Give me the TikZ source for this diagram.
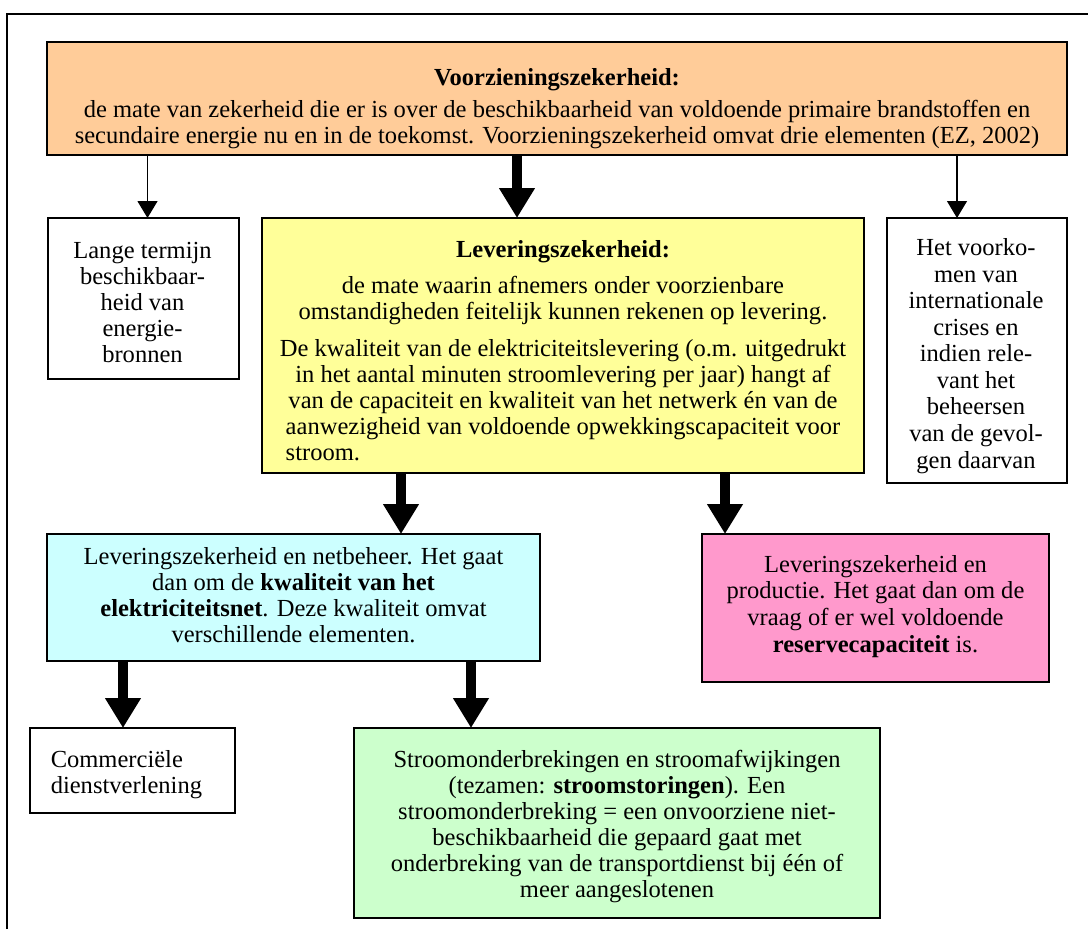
\documentclass[tikz,border=0pt]{standalone}
\usepackage{fontspec}
\setmainfont{Liberation Serif}
\usetikzlibrary{arrows.meta}
\definecolor{cOrange}{HTML}{FFCC99}
\definecolor{cYellow}{HTML}{FFFF99}
\definecolor{cCyan}{HTML}{CCFFFF}
\definecolor{cPink}{HTML}{FF99CC}
\definecolor{cGreen}{HTML}{CCFFCC}
\begin{document}
\begin{tikzpicture}[x=0.75pt,y=-0.75pt,
  box/.style={draw=black, line width=1.1pt, inner sep=0pt, outer sep=0pt},
  txt/.style={font=\fontsize{18.4}{19.5}\selectfont, align=center, inner sep=0pt, anchor=base},
  thinarrow/.style={line width=0.9pt, -{Triangle[width=15pt,length=12.75pt]}},
  thickarrow/.style={line width=7pt, -{Triangle[width=25.5pt,length=22.5pt]}}
]
\useasboundingbox (0,0) rectangle (1088,929);
\draw[line width=1.1pt] (7,929) -- (7,14) -- (1088,14);

% boxes
\node[box, fill=cOrange, minimum width=765pt, minimum height=84.75pt] (orange) at (557,98.5) {};
\node[box, fill=white, minimum width=143.25pt, minimum height=120.75pt] (lange) at (143.5,298.5) {};
\node[box, fill=cYellow, minimum width=451.5pt, minimum height=191.25pt] (yellow) at (563,345.5) {};
\node[box, fill=white, minimum width=135pt, minimum height=198.75pt] (crises) at (977,350.5) {};
\node[box, fill=cCyan, minimum width=369.75pt, minimum height=95.25pt] (cyan) at (293.5,597.5) {};
\node[box, fill=cPink, minimum width=260.25pt, minimum height=111pt] (pink) at (875.5,608) {};
\node[box, fill=white, minimum width=153.75pt, minimum height=63.75pt] (comm) at (132.5,770.5) {};
\node[box, fill=cGreen, minimum width=394.5pt, minimum height=142.5pt] (green) at (617,823) {};

% texts (anchored at the baseline of their last line)
\node[txt] (orangeT) at (557,143) {\textbf{Voorzieningszekerheid:}\\[4.5pt]
  de mate van zekerheid die er is over de beschikbaarheid van voldoende primaire brandstoffen en\\
  secundaire energie nu en in de toekomst. Voorzieningszekerheid omvat drie elementen (EZ, 2002)};
\node[txt] (langeT) at (142.5,362) {Lange termijn\\ beschikbaar-\\ heid van\\ energie-\\ bronnen};
\node[txt] (yellowT) at (563,460) {\textbf{Leveringszekerheid:}\\[7.5pt]
  de mate waarin afnemers onder voorzienbare\\
  omstandigheden feitelijk kunnen rekenen op levering.\\[8.25pt]
  De kwaliteit van de elektriciteitslevering (o.m. uitgedrukt\\
  in het aantal minuten stroomlevering per jaar) hangt af\\
  van de capaciteit en kwaliteit van het netwerk én van de\\
  aanwezigheid van voldoende opwekkingscapaciteit voor\\
  \rlap{stroom.}\phantom{aanwezigheid van voldoende opwekkingscapaciteit voor}};
\node[txt, font=\fontsize{18.4}{19.9}\selectfont] (crisesT) at (976,468) {Het voorko-\\ men van\\ internationale\\ crises en\\ indien rele-\\ vant het\\ beheersen\\ van de gevol-\\ gen daarvan};
\node[txt] (cyanT) at (293.5,642) {Leveringszekerheid en netbeheer. Het gaat\\
  dan om de \textbf{kwaliteit van het}\\
  \textbf{elektriciteitsnet}. Deze kwaliteit omvat\\
  verschillende elementen.};
\node[txt, font=\fontsize{18.4}{19.9}\selectfont] (pinkT) at (875.5,652) {Leveringszekerheid en\\ productie. Het gaat dan om de\\ vraag of er wel voldoende\\ \textbf{reservecapaciteit} is.};
\node[txt, align=left, anchor=base west] (commT) at (50.5,793) {Commerciële\\ dienstverlening};
\node[txt] (greenT) at (617,897) {Stroomonderbrekingen en stroomafwijkingen\\
  (tezamen: \textbf{stroomstoringen}). Een\\
  stroomonderbreking = een onvoorziene niet-\\
  beschikbaarheid die gepaard gaat met\\
  onderbreking van de transportdienst bij één of\\
  meer aangeslotenen};

% connectors
\coordinate (a1) at ([xshift=3pt]lange.north);
\coordinate (a2) at ([xshift=-34.5pt]yellow.north);
\coordinate (a3) at ([xshift=-15pt]crises.north);
\coordinate (a4) at ([xshift=80.625pt]cyan.north);
\coordinate (a5) at ([xshift=-112.875pt]pink.north);
\coordinate (a6) at ([xshift=-7.125pt]comm.north);
\coordinate (a7) at ([xshift=-109.5pt]green.north);
\draw[thinarrow] (orange.south -| a1) -- (a1);
\draw[thickarrow] (orange.south -| a2) -- (a2);
\draw[thinarrow] (orange.south -| a3) -- (a3);
\draw[thickarrow] (yellow.south -| a4) -- (a4);
\draw[thickarrow] (yellow.south -| a5) -- (a5);
\draw[thickarrow] (cyan.south -| a6) -- (a6);
\draw[thickarrow] (cyan.south -| a7) -- (a7);
\end{tikzpicture}
\end{document}
